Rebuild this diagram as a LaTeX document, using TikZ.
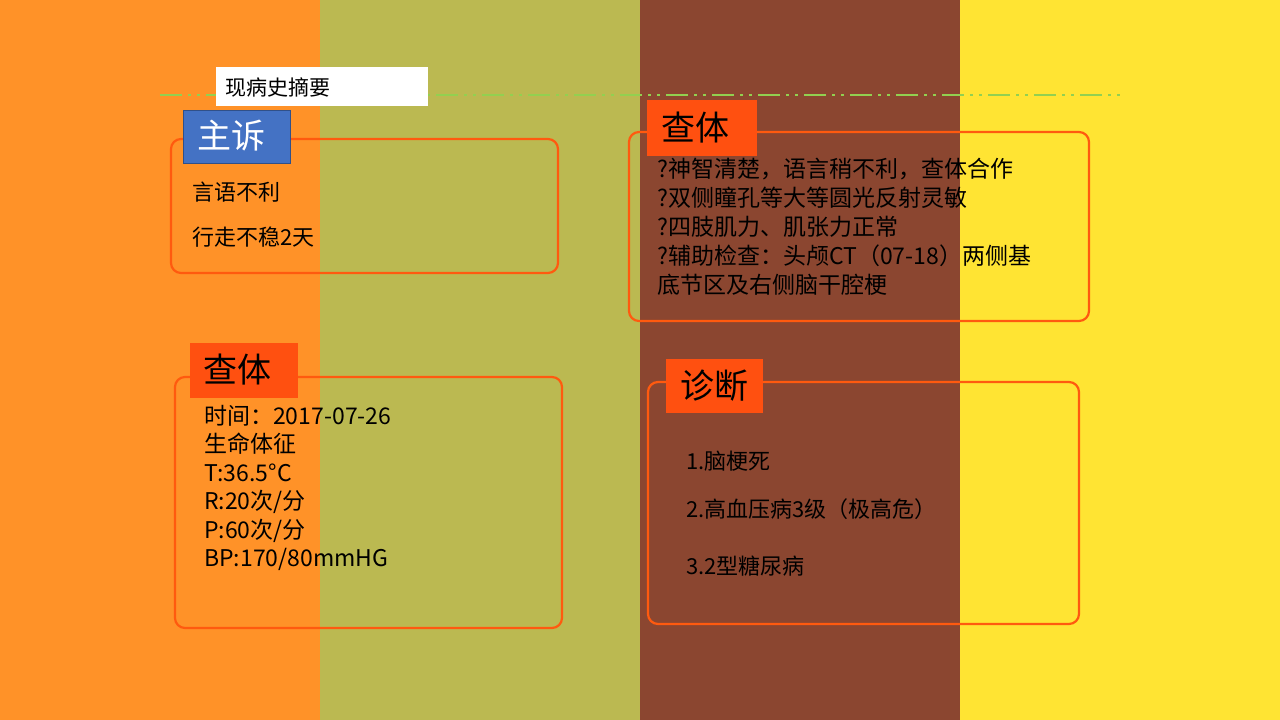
\documentclass[tikz,border=0pt]{standalone}
\usepackage{fontspec}
\setmainfont{Noto Sans CJK SC}
\definecolor{c1}{HTML}{FF9228}
\definecolor{c2}{HTML}{BBB951}
\definecolor{c3}{HTML}{8B4630}
\definecolor{c4}{HTML}{FFE433}
\definecolor{bd}{HTML}{FF5A0F}
\definecolor{lb}{HTML}{FF5010}
\definecolor{bl}{HTML}{4472C4}
\definecolor{gr}{HTML}{92D050}
\begin{document}
\begin{tikzpicture}[x=1pt,y=-1pt,
 card/.style={draw=bd,line width=2.2pt,rounded corners=10pt},
 lab/.style={fill=lb,text=black,font=\fontsize{34}{36}\selectfont},
 txt/.style={anchor=west,inner sep=0pt,font=\fontsize{22}{29}\selectfont,align=left}]
\useasboundingbox (0,0) rectangle (1280,720);
\fill[c1] (0,0) rectangle (320,720);
\fill[c2] (320,0) rectangle (640,720);
\fill[c3] (640,0) rectangle (960,720);
\fill[c4] (960,0) rectangle (1280,720);
\draw[gr,line width=2pt,dash pattern=on 22pt off 6pt on 3pt off 6pt on 3pt off 6pt] (160,95) -- (1120,95);
\fill[white] (216,67) rectangle (428,106);
\node[anchor=west,font=\fontsize{21}{24}\selectfont] (t) at (222,87) {现病史摘要};
% box 1
\draw[card] (171,139) rectangle (558,273);
\fill[bl] (183,110) rectangle (290,163);
\draw[bl!70!black] (183,110) rectangle (290,163);
\node[text=white,font=\fontsize{34}{36}\selectfont] (l1) at (231,136) {主诉};
\node[txt] (a1) at (192,192) {言语不利};
\node[txt] (a2) at (192,237) {行走不稳2天};
% box 2
\draw[card] (175,377) rectangle (562,628);
\fill[lb] (190,343) rectangle (298,398);
\node[font=\fontsize{34}{36}\selectfont] (l2) at (237,370) {查体};
\node[txt,anchor=north west,font=\fontsize{23}{28.5}\selectfont] (b) at (204,405) {时间：2017-07-26\\生命体征\\T:36.5°C\\R:20次/分\\P:60次/分\\BP:170/80mmHG};
% box 3
\draw[card] (629,132) rectangle (1089,321);
\fill[lb] (647,100) rectangle (757,156);
\node[font=\fontsize{34}{36}\selectfont] (l3) at (695,128) {查体};
\node[txt,anchor=north west,font=\fontsize{23}{29}\selectfont] (c) at (657,158) {?神智清楚，语言稍不利，查体合作\\?双侧瞳孔等大等圆光反射灵敏\\?四肢肌力、肌张力正常\\?辅助检查：头颅CT（07-18）两侧基\\底节区及右侧脑干腔梗};
% box 4
\draw[card] (648,382) rectangle (1079,624);
\fill[lb] (666,359) rectangle (763,413);
\node[font=\fontsize{34}{36}\selectfont] (l4) at (714,386) {诊断};
\node[txt] (d1) at (686,461) {1.脑梗死};
\node[txt] (d2) at (686,509) {2.高血压病3级（极高危）};
\node[txt] (d3) at (686,566) {3.2型糖尿病};
\end{tikzpicture}
\end{document}
